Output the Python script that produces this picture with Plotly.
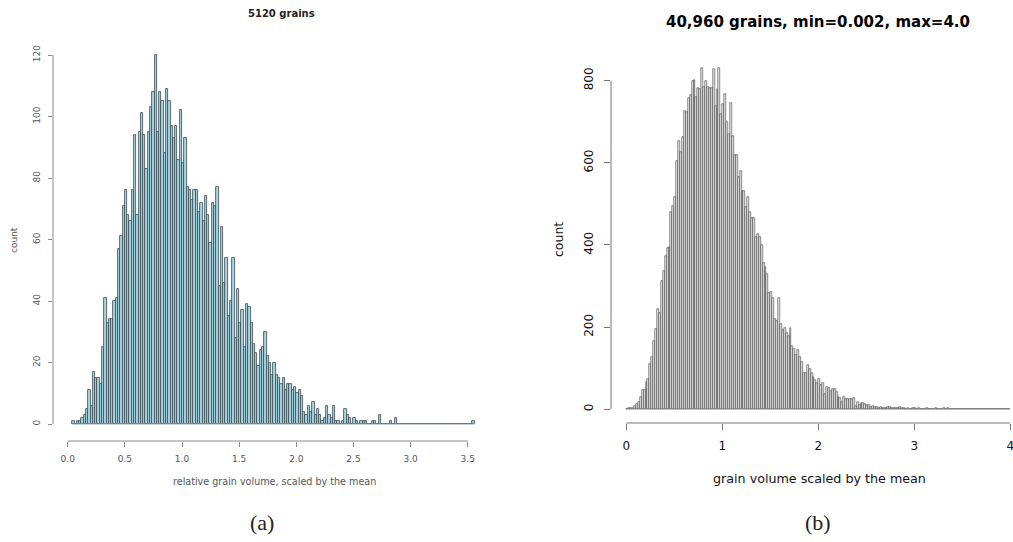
import plotly.graph_objects as go

# ---------------- data ----------------
# (a) 5120 grains: bins of width 0.02 starting at 0.04
left_bin_start = 0.04
left_bin_width = 0.02
left_counts = [
    1, 0, 1, 1, 2, 3, 5, 11, 6, 17, 15, 15, 13, 25, 41, 33, 34, 34, 40, 41,
    57, 61, 71, 76, 68, 66, 76, 94, 68, 95, 101, 94, 83, 95, 103, 108, 120, 95, 108, 105,
    88, 109, 105, 97, 93, 97, 86, 102, 85, 93, 77, 76, 73, 76, 76, 69, 72, 66, 74, 68,
    59, 72, 71, 77, 45, 64, 46, 54, 35, 40, 54, 28, 44, 33, 37, 25, 39, 38, 33, 26,
    23, 19, 24, 25, 30, 22, 20, 16, 20, 16, 15, 13, 15, 11, 13, 13, 11, 12, 10, 11,
    9, 4, 3, 6, 4, 7, 3, 5, 3, 1, 2, 6, 3, 2, 6, 1, 1, 0, 1, 5,
    3, 2, 0, 2, 1, 0, 1, 1, 1, 0, 0, 1, 1, 0, 3, 0, 0, 0, 0, 1,
    0, 2, 0, 0, 0, 0, 0, 0, 0, 0, 0, 0, 0, 0, 0, 0, 0, 0, 0, 0,
    0, 0, 0, 0, 0, 0, 0, 0, 0, 0, 0, 0, 0, 0, 0, 1,
]

# (b) 40,960 grains: bins of width 0.02 from 0 to 4
right_bin_start = 0.0
right_bin_width = 0.02
right_counts = [
    1, 3, 4, 3, 8, 12, 18, 30, 46, 48, 66, 74, 110, 127, 166, 196, 243, 234, 312, 336,
    372, 392, 396, 481, 494, 518, 605, 652, 627, 664, 725, 723, 757, 766, 798, 801, 760, 783, 780, 832,
    785, 800, 784, 783, 781, 828, 738, 780, 832, 720, 742, 767, 700, 669, 746, 666, 619, 619, 566, 579,
    532, 532, 493, 518, 480, 465, 465, 420, 427, 420, 400, 357, 347, 329, 282, 286, 270, 219, 215, 270,
    208, 193, 199, 185, 179, 197, 153, 146, 132, 144, 128, 114, 89, 89, 107, 99, 88, 79, 71, 63,
    73, 58, 64, 37, 55, 52, 44, 49, 49, 41, 31, 28, 18, 29, 24, 26, 24, 26, 27, 8,
    18, 11, 15, 15, 13, 11, 10, 6, 8, 5, 5, 3, 5, 3, 3, 3, 6, 5, 2, 2,
    3, 2, 5, 2, 2, 1, 4, 1, 1, 4, 2, 1, 3, 1, 0, 1, 2, 0, 1, 1,
    0, 2, 1, 0, 1, 3, 0, 2, 0, 1, 1, 0, 0, 1, 0, 1, 0, 0, 1, 0,
    0, 0, 1, 0, 0, 0, 0, 0, 1, 0, 0, 0, 0, 0, 0, 0, 0, 0, 0, 1,
]

left_xticks = [0.0, 0.5, 1.0, 1.5, 2.0, 2.5, 3.0, 3.5]
left_xticktext = ["0.0", "0.5", "1.0", "1.5", "2.0", "2.5", "3.0", "3.5"]
left_yticks = [0, 20, 40, 60, 80, 100, 120]
right_xticks = [0, 1, 2, 3, 4]
right_yticks = [0, 200, 400, 600, 800]

left_title = "5120 grains"
right_title = "40,960 grains, min=0.002, max=4.0"
left_xlabel = "relative grain volume, scaled by the mean"
right_xlabel = "grain volume scaled by the mean"

# ---------------- figure ----------------
W, H = 1013, 542

def px_x(p):
    return p / W

def px_y(p):
    return 1 - p / H

left_x = [left_bin_start + (i + 0.5) * left_bin_width for i in range(len(left_counts))]
right_x = [right_bin_start + (i + 0.5) * right_bin_width for i in range(len(right_counts))]

fig = go.Figure()
fig.add_trace(go.Bar(
    x=left_x, y=left_counts, width=left_bin_width,
    marker=dict(color="#a8d4e0", line=dict(color="#3a4a50", width=0.8)),
    xaxis="x", yaxis="y", showlegend=False, hoverinfo="x+y",
))
fig.add_trace(go.Bar(
    x=right_x, y=right_counts, width=right_bin_width,
    marker=dict(color="#e6e6e6", line=dict(color="#333333", width=0.55)),
    xaxis="x2", yaxis="y2", showlegend=False, hoverinfo="x+y",
))

# plot-area geometry (pixels)
L_left, L_right, L_top, L_bottom = 53, 480, 40, 441
R_left, R_right, R_top, R_bottom = 611, 1012, 60, 423

lx0, lxs = 67.7, 114.3
ly0, lys = 424.0, 3.075
rx0, rxs = 626.3, 96.0
ry0, rys = 409.3, 0.4108

lxr = [(L_left - lx0) / lxs, (L_right - lx0) / lxs]
lyr = [-(L_bottom - ly0) / lys, (ly0 - L_top) / lys]
rxr = [(R_left - rx0) / rxs, (R_right - rx0) / rxs]
ryr = [-(R_bottom - ry0) / rys, (ry0 - R_top) / rys]

lgrey = "#555555"
axfont_l = dict(family="DejaVu Sans", size=9, color=lgrey)
axfont_r = dict(family="DejaVu Sans", size=12, color="#111111")

common = dict(showgrid=False, zeroline=False, showline=False, automargin=False,
              ticks="outside", tickwidth=1, ticklabeloverflow="allow")

fig.update_layout(
    template="none",
    width=W, height=H, autosize=False,
    margin=dict(l=0, r=0, t=0, b=0, pad=0),
    paper_bgcolor="white", plot_bgcolor="white",
    bargap=0,
    xaxis=dict(domain=[px_x(L_left), px_x(L_right)], range=lxr, anchor="y",
               tickvals=left_xticks, ticktext=left_xticktext,
               ticklen=5, tickcolor="#888888", tickfont=axfont_l, ticklabelstandoff=4, **common),
    yaxis=dict(domain=[px_y(L_bottom), px_y(L_top)], range=lyr, anchor="x",
               tickvals=left_yticks, ticklen=4, tickcolor="#888888",
               tickangle=-90, tickfont=axfont_l, ticklabelstandoff=4, **common),
    xaxis2=dict(domain=[px_x(R_left), px_x(R_right)], range=rxr, anchor="y2",
                tickvals=right_xticks, ticklen=6, tickcolor="#777777",
                tickfont=axfont_r, ticklabelstandoff=6, **common),
    yaxis2=dict(domain=[px_y(R_bottom), px_y(R_top)], range=ryr, anchor="x2",
                tickvals=right_yticks, ticklen=6, tickcolor="#777777",
                tickangle=-90, tickfont=axfont_r, ticklabelstandoff=6, **common),
)

# R-style detached axis lines spanning the tick range
fig.add_shape(type="line", xref="x", yref="paper", x0=left_xticks[0], x1=left_xticks[-1],
              y0=px_y(L_bottom), y1=px_y(L_bottom), line=dict(color="#888888", width=1))
fig.add_shape(type="line", xref="paper", yref="y", x0=px_x(L_left), x1=px_x(L_left),
              y0=left_yticks[0], y1=left_yticks[-1], line=dict(color="#888888", width=1))
fig.add_shape(type="line", xref="x2", yref="paper", x0=right_xticks[0], x1=right_xticks[-1],
              y0=px_y(R_bottom), y1=px_y(R_bottom), line=dict(color="#777777", width=1))
fig.add_shape(type="line", xref="paper", yref="y2", x0=px_x(R_left), x1=px_x(R_left),
              y0=right_yticks[0], y1=right_yticks[-1], line=dict(color="#777777", width=1))
# zero baselines (empty bins)
fig.add_shape(type="line", xref="x", yref="y", x0=left_bin_start,
              x1=left_bin_start + len(left_counts) * left_bin_width, y0=0, y1=0,
              line=dict(color="#9aa8ad", width=0.8))
fig.add_shape(type="line", xref="x2", yref="y2", x0=right_bin_start,
              x1=right_bin_start + len(right_counts) * right_bin_width, y0=0, y1=0,
              line=dict(color="#aaaaaa", width=0.8))

def ann(text, x, y, size, color="#111111", bold=False, family="DejaVu Sans", angle=0):
    fig.add_annotation(text=("<b>%s</b>" % text) if bold else text,
                       xref="paper", yref="paper", x=px_x(x), y=px_y(y),
                       showarrow=False, textangle=angle, xanchor="center", yanchor="middle",
                       font=dict(family=family, size=size, color=color))

ann(left_title, 281, 13, 10, "#222222", bold=True)
ann(right_title, 818, 22, 15, "#000000", bold=True)
ann(left_xlabel, 274, 482, 9.6, lgrey)
ann(right_xlabel, 819, 478, 12.7, "#111111")
ann("count", 14, 240, 9, lgrey, angle=-90)
ann("count", 558, 240, 12.5, "#111111", angle=-90)
ann("(a)", 262, 522, 22, "#222222", family="Liberation Serif")
ann("(b)", 818, 522, 22, "#222222", family="Liberation Serif")

fig.write_html(
    "out.html",
    config={"displayModeBar": False},
    post_script="document.body.style.margin='0';document.body.style.padding='0';"
                "document.body.style.overflow='hidden';",
)
